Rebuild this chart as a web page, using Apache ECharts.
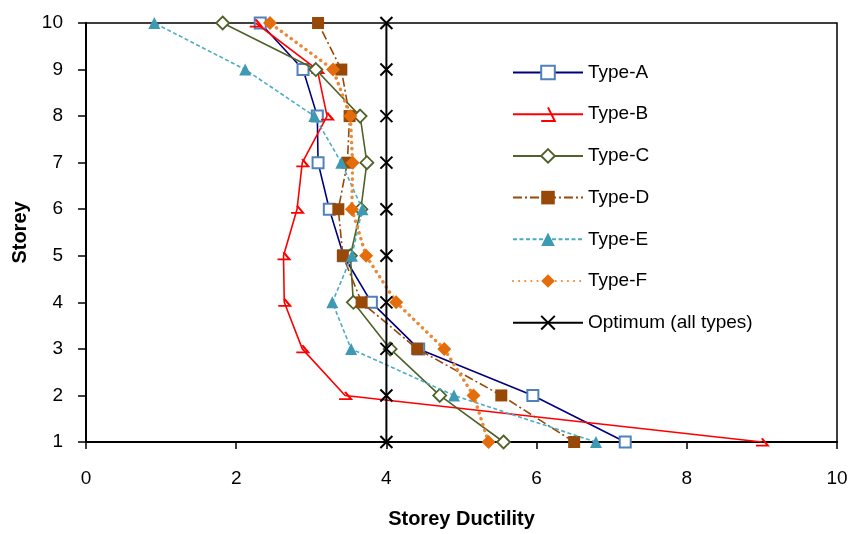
<!DOCTYPE html>
<html>
<head>
<meta charset="utf-8">
<script src="https://cdn.jsdelivr.net/npm/echarts@6/dist/echarts.min.js"></script>
<style>
html,body{margin:0;padding:0;background:#fff;}
#c{width:855px;height:534px;}
</style>
</head>
<body>
<div id="c"></div>
<script>
// Storey ductility per storey (index 0 = storey 1 ... index 9 = storey 10)
const storeys = [1, 2, 3, 4, 5, 6, 7, 8, 9, 10];
const typeA = [7.18, 5.95, 4.43, 3.80, 3.43, 3.24, 3.09, 3.08, 2.89, 2.32];
const typeB = [9.00, 3.45, 2.88, 2.64, 2.63, 2.81, 2.88, 3.21, 3.08, 2.26];
const typeC = [5.56, 4.71, 4.05, 3.56, 3.52, 3.66, 3.74, 3.65, 3.06, 1.82];
const typeD = [6.50, 5.53, 4.41, 3.67, 3.42, 3.36, 3.48, 3.51, 3.40, 3.09];
const typeE = [6.79, 4.90, 3.53, 3.28, 3.54, 3.68, 3.40, 3.04, 2.12, 0.91];
const typeF = [5.36, 5.16, 4.77, 4.13, 3.73, 3.54, 3.55, 3.52, 3.29, 2.45];
const optimum = [4, 4, 4, 4, 4, 4, 4, 4, 4, 4];
const seriesNames = ['Type-A', 'Type-B', 'Type-C', 'Type-D', 'Type-E', 'Type-F', 'Optimum (all types)'];

const FONT = '"Liberation Sans", Arial, sans-serif';
function pairs(vals) { return vals.map((v, i) => [v, storeys[i]]); }

const chart = echarts.init(document.getElementById('c'), null, {renderer: 'canvas'});

const seriesDefs = [
  {data: typeA, line: {color: '#00007F', width: 1.6, type: 'solid'},
   symbol: 'rect', size: 11, item: {color: '#ffffff', borderColor: '#4F81BD', borderWidth: 2}},
  {data: typeB, line: {color: '#FF0000', width: 1.6, type: 'solid'},
   symbol: 'path://M0,10 L10,10 L5,2', size: [12, 9], item: {color: 'none', borderColor: '#FF0000', borderWidth: 2}},
  {data: typeC, line: {color: '#4F6228', width: 1.6, type: 'solid'},
   symbol: 'diamond', size: 13, item: {color: '#ffffff', borderColor: '#4F6228', borderWidth: 1.8}},
  {data: typeD, line: {color: '#984807', width: 1.6, type: [9, 3, 2, 3]},
   symbol: 'rect', size: 12, item: {color: '#984807', borderColor: '#984807', borderWidth: 0}},
  {data: typeE, line: {color: '#4BACC6', width: 1.6, type: [4, 2.5]},
   symbol: 'triangle', size: 12, item: {color: '#3E9AB3', borderColor: '#3E9AB3', borderWidth: 0}},
  {data: typeF, line: {color: '#E88A3C', width: 3.5, type: [0.1, 6], cap: 'round'},
   symbol: 'diamond', size: 14, item: {color: '#E46C0A', borderColor: '#E46C0A', borderWidth: 0}},
  {data: optimum, line: {color: '#000000', width: 2, type: 'solid'},
   symbol: 'path://M0,0 L10,10 M10,0 L0,10', size: 12, item: {color: 'none', borderColor: '#000000', borderWidth: 2}}
];

const series = seriesDefs.map((d, i) => ({
  name: seriesNames[i],
  type: 'line',
  data: pairs(d.data),
  symbol: d.symbol,
  symbolSize: d.size,
  symbolKeepAspect: true,
  showAllSymbol: true,
  animation: false,
  lineStyle: {color: d.line.color, width: d.line.width, type: d.line.type, cap: d.line.cap || 'butt'},
  itemStyle: d.item,
  emphasis: {disabled: true},
  z: 2 + i
}));

chart.setOption({
  backgroundColor: '#ffffff',
  animation: false,
  textStyle: {fontFamily: FONT},
  grid: {left: 86, right: 18, top: 23, bottom: 91, show: true, borderColor: '#000', borderWidth: 1.5, backgroundColor: 'transparent'},
  legend: {
    orient: 'vertical',
    left: 507,
    top: 58,
    itemWidth: 70,
    itemHeight: 17,
    itemGap: 22.7,
    textStyle: {fontFamily: FONT, fontSize: 19, color: '#000'},
    data: seriesNames
  },
  xAxis: {
    type: 'value',
    min: 0, max: 10, interval: 2,
    name: 'Storey Ductility',
    nameLocation: 'middle',
    nameGap: 67,
    nameTextStyle: {fontFamily: FONT, fontSize: 20, fontWeight: 'bold', color: '#000'},
    axisLine: {show: true, onZero: false, lineStyle: {color: '#000', width: 2}},
    axisTick: {show: true, inside: false, length: 7, lineStyle: {color: '#000', width: 1.5}},
    axisLabel: {fontFamily: FONT, fontSize: 19, color: '#000', margin: 27},
    splitLine: {show: false}
  },
  yAxis: {
    type: 'value',
    min: 1, max: 10, interval: 1,
    name: 'Storey',
    nameLocation: 'middle',
    nameGap: 56,
    nameRotate: 90,
    nameTextStyle: {fontFamily: FONT, fontSize: 20, fontWeight: 'bold', color: '#000'},
    axisLine: {show: true, onZero: false, lineStyle: {color: '#000', width: 2}},
    axisTick: {show: true, inside: false, length: 8, lineStyle: {color: '#000', width: 1.5}},
    axisLabel: {fontFamily: FONT, fontSize: 19, color: '#000', margin: 23},
    splitLine: {show: false}
  },
  series: series
});
</script>
</body>
</html>
